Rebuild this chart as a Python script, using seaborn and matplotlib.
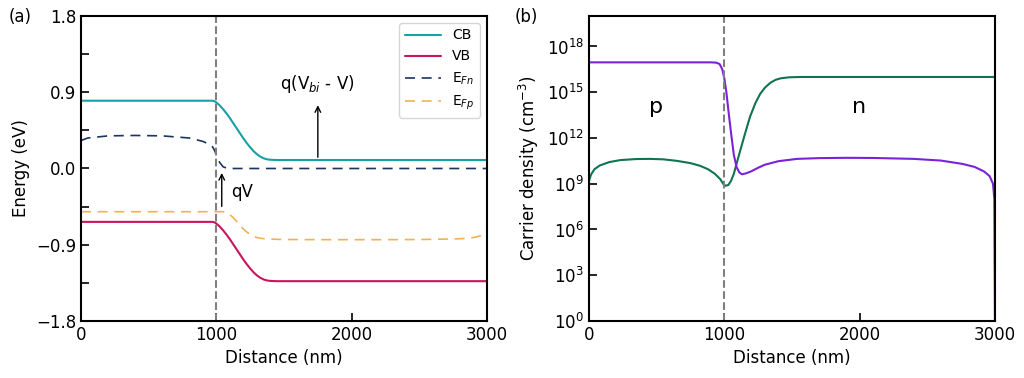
import numpy as np
import pandas as pd
import seaborn as sns
import matplotlib
matplotlib.use('Agg')
import matplotlib.pyplot as plt
from matplotlib.colors import to_hex

sns.set_style('ticks')
plt.rcParams['font.family'] = ['DejaVu Sans']
plt.rcParams['xtick.direction'] = 'in'
plt.rcParams['ytick.direction'] = 'in'
for key in ['text.color', 'axes.labelcolor', 'xtick.color', 'ytick.color', 'axes.edgecolor']:
    plt.rcParams[key] = 'black'

# ---- panel (a): band diagram (eV) ----
dist_a = [0, 50, 200, 400, 600, 800, 900, 950, 970, 985, 1000, 1025, 1050, 1075, 1100,
          1125, 1150, 1175, 1200, 1225, 1250, 1275, 1300, 1325, 1350, 1375, 1400, 1450,
          1500, 1750, 2000, 2250, 2500, 2750, 2850, 2900, 2950, 2980, 3000]
cb = [0.80, 0.80, 0.80, 0.80, 0.80, 0.80, 0.80, 0.80, 0.80, 0.795, 0.78, 0.745, 0.70,
      0.65, 0.595, 0.535, 0.475, 0.415, 0.355, 0.30, 0.25, 0.205, 0.168, 0.14, 0.12,
      0.108, 0.103, 0.10, 0.10, 0.10, 0.10, 0.10, 0.10, 0.10, 0.10, 0.10, 0.10, 0.10, 0.10]
vb = [-0.63, -0.63, -0.63, -0.63, -0.63, -0.63, -0.63, -0.63, -0.63, -0.635, -0.65, -0.685,
      -0.73, -0.78, -0.835, -0.895, -0.955, -1.015, -1.075, -1.13, -1.18, -1.225, -1.262,
      -1.29, -1.31, -1.322, -1.327, -1.33, -1.33, -1.33, -1.33, -1.33, -1.33, -1.33, -1.33,
      -1.33, -1.33, -1.33, -1.33]
efn = [0.33, 0.36, 0.385, 0.39, 0.385, 0.36, 0.32, 0.285, 0.26, 0.22, 0.16, 0.07, 0.02,
       0.005, 0.0, 0.0, 0.0, 0.0, 0.0, 0.0, 0.0, 0.0, 0.0, 0.0, 0.0, 0.0, 0.0, 0.0, 0.0,
       0.0, 0.0, 0.0, 0.0, 0.0, 0.0, 0.0, 0.0, 0.0, 0.0]
efp = [-0.51, -0.51, -0.51, -0.51, -0.51, -0.51, -0.51, -0.51, -0.51, -0.51, -0.51, -0.51,
       -0.51, -0.52, -0.545, -0.58, -0.625, -0.67, -0.715, -0.75, -0.78, -0.80, -0.815,
       -0.823, -0.828, -0.831, -0.833, -0.836, -0.838, -0.84, -0.84, -0.84, -0.838, -0.832,
       -0.825, -0.815, -0.795, -0.77, -0.74]

# ---- panel (b): carrier density, log10(cm^-3) ----
dist_n = [0, 15, 40, 80, 150, 230, 350, 450, 550, 650, 750, 820, 880, 930, 970, 995, 1010,
          1030, 1050, 1070, 1090, 1115, 1150, 1190, 1230, 1265, 1300, 1340, 1380, 1420,
          1480, 1560, 2000, 2500, 3000, 3000]
log_n = [9.2, 9.6, 9.95, 10.2, 10.42, 10.55, 10.62, 10.63, 10.6, 10.5, 10.35, 10.18, 9.95,
         9.65, 9.3, 8.95, 8.87, 8.92, 9.2, 9.65, 10.3, 11.1, 12.2, 13.4, 14.3, 14.9, 15.3,
         15.62, 15.82, 15.92, 15.98, 16.0, 16.0, 16.0, 16.0, 9.0]
dist_p = [0, 500, 900, 940, 965, 985, 1000, 1015, 1030, 1050, 1070, 1090, 1110, 1130, 1160,
          1200, 1250, 1300, 1400, 1537, 1700, 1900, 2100, 2400, 2600, 2760, 2850, 2920, 2960,
          2985, 2995, 3000]
log_p = [16.96, 16.96, 16.96, 16.94, 16.85, 16.5, 15.9, 15.0, 13.8, 12.3, 10.9, 10.1, 9.75,
         9.62, 9.68, 9.82, 10.05, 10.25, 10.48, 10.63, 10.68, 10.7, 10.69, 10.63, 10.52, 10.3,
         10.1, 9.8, 9.5, 9.0, 8.0, -1.0]

band_names = ['CB', 'VB', 'E$_{Fn}$', 'E$_{Fp}$']
band_colors = ['#17a0a6', '#c8155c', '#1b3462', '#f2b253']

bands = pd.concat([
    pd.DataFrame({'Distance': dist_a, 'Energy': vals, 'band': name})
    for name, vals in zip(band_names, [cb, vb, efn, efp])
])
carriers = pd.concat([
    pd.DataFrame({'Distance': dist_n, 'density': 10.0 ** np.array(log_n), 'carrier': 'n'}),
    pd.DataFrame({'Distance': dist_p, 'density': 10.0 ** np.array(log_p), 'carrier': 'p'}),
])

fig = plt.figure(figsize=(10.24, 3.78), dpi=100)
ax1 = fig.add_axes([0.0791, 0.1508, 0.3965, 0.8069])
ax2 = fig.add_axes([0.5752, 0.1508, 0.3965, 0.8069])

sns.lineplot(data=bands, x='Distance', y='Energy', hue='band', style='band',
             palette=dict(zip(band_names, band_colors)),
             dashes={'CB': '', 'VB': '', 'E$_{Fn}$': (6, 4), 'E$_{Fp}$': (6, 4)},
             estimator=None, sort=False, linewidth=1.5, ax=ax1)
ax1.axvline(1000, color='gray', ls='--', lw=1.5)
ax1.set_xlim(0, 3000)
ax1.set_ylim(-1.8, 1.8)
ax1.set_yticks(np.arange(-1.8, 1.81, 0.45))
ax1.set_yticklabels(['\u22121.8', '', '\u22120.9', '', '0.0', '', '0.9', '', '1.8'])
ax1.set_xticks([0, 1000, 2000, 3000])
ax1.set_xlabel('Distance (nm)', fontsize=12)
ax1.set_ylabel('Energy (eV)', fontsize=12)
ax1.tick_params(labelsize=12, length=6, width=1.2)
leg = ax1.legend(loc='upper right', fontsize=10, handlelength=2.6, frameon=True)
leg.set_title(None)

# dashed quasi-Fermi levels are drawn a bit thinner
thin = {to_hex(c) for c in band_colors[2:]}
for ln in list(ax1.get_lines()) + list(leg.get_lines()):
    if to_hex(ln.get_color()) in thin:
        ln.set_linewidth(1.2)

ax1.annotate('', xy=(1750, 0.78), xytext=(1750, 0.1),
             arrowprops=dict(arrowstyle='->', color='black', lw=1))
ax1.text(1750, 1.0, 'q(V$_{bi}$ - V)', fontsize=12, ha='center', va='center')
ax1.annotate('', xy=(1040, -0.02), xytext=(1040, -0.48),
             arrowprops=dict(arrowstyle='->', color='black', lw=1))
ax1.text(1110, -0.28, 'qV', fontsize=12, ha='left', va='center')

sns.lineplot(data=carriers, x='Distance', y='density', hue='carrier',
             palette={'n': '#117352', 'p': '#7a22d8'}, estimator=None, sort=False,
             linewidth=1.5, legend=False, ax=ax2)
ax2.axvline(1000, color='gray', ls='--', lw=1.5)
ax2.set_yscale('log')
ax2.set_xlim(0, 3000)
ax2.set_ylim(1, 1e20)
ax2.set_yticks([10.0 ** k for k in range(0, 19, 3)])
ax2.minorticks_off()
ax2.set_xticks([0, 1000, 2000, 3000])
ax2.set_xlabel('Distance (nm)', fontsize=12)
ax2.set_ylabel('Carrier density (cm$^{-3}$)', fontsize=12)
ax2.tick_params(labelsize=12, length=6, width=1.2)
ax2.text(495, 1e14, 'p', fontsize=16, ha='center', va='center')
ax2.text(1995, 1e14, 'n', fontsize=16, ha='center', va='center')

for ax in (ax1, ax2):
    for s in ax.spines.values():
        s.set_linewidth(1.5)
        s.set_visible(True)

fig.text(0.008, 0.955, '(a)', fontsize=12, va='center')
fig.text(0.503, 0.955, '(b)', fontsize=12, va='center')

fig.savefig('out.png', dpi=100)
